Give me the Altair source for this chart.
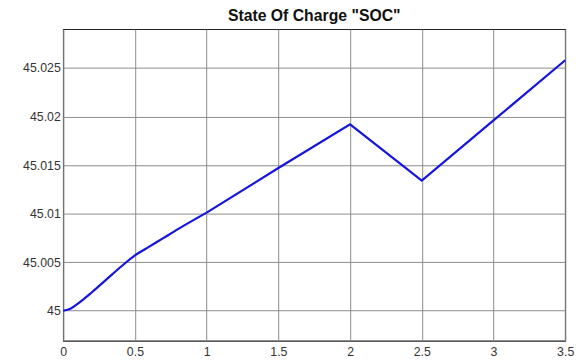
import altair as alt
import pandas as pd

time_s = [0.0, 0.05, 0.1, 0.2, 0.3, 0.4, 0.5, 0.6, 0.7, 0.8, 1.0, 1.5, 2.0, 2.5, 3.0, 3.5]
soc = [45.0, 45.0002, 45.0007, 45.0019, 45.0032, 45.0045, 45.0057, 45.0066, 45.0075,
       45.0084, 45.0101, 45.0147, 45.0192, 45.0134, 45.0196, 45.0258]

x_ticks = [0, 0.5, 1, 1.5, 2, 2.5, 3, 3.5]
y_ticks = [45.0, 45.005, 45.01, 45.015, 45.02, 45.025]

df = pd.DataFrame({"t": time_s, "soc": soc})
# smooth start-up section and the piecewise-linear remainder
df_start = df[df["t"] <= 1.0]
df_rest = df[df["t"] >= 1.0]

x_enc = alt.X("t:Q", scale=alt.Scale(domain=[0, 3.5], nice=False, zero=False),
              axis=alt.Axis(values=x_ticks, format="~g", title=None, labelFlush=False))
y_enc = alt.Y("soc:Q", scale=alt.Scale(domain=[44.9969, 45.029], nice=False, zero=False),
              axis=alt.Axis(values=y_ticks, format="~g", title=None))

smooth = alt.Chart(df_start).mark_line(
    color="#1414e0", strokeWidth=2.2, interpolate="monotone").encode(x=x_enc, y=y_enc)
rest = alt.Chart(df_rest).mark_line(
    color="#1414e0", strokeWidth=2.2).encode(x=x_enc, y=y_enc)

chart = alt.layer(smooth, rest).properties(
    width=509,
    height=316,
    title=alt.TitleParams('State Of Charge "SOC"', font="Liberation Sans", fontSize=16,
                          fontWeight="bold", color="#111", offset=5, anchor="middle"),
    autosize=alt.AutoSizeParams(type="none"),
    padding={"left": 56, "top": 19, "right": 14, "bottom": 19},
).configure_view(
    stroke="#222", strokeWidth=1.2
).configure_axis(
    grid=True, gridColor="#8a8a8a", gridWidth=1, gridOpacity=1,
    ticks=False, domain=False,
    labelFont="Liberation Sans", labelFontSize=12.5, labelColor="#333",
).configure_axisY(
    labelPadding=3
).configure_axisX(
    labelPadding=5
)

chart.save("out.html", embed_options={"renderer": "svg", "actions": False})
